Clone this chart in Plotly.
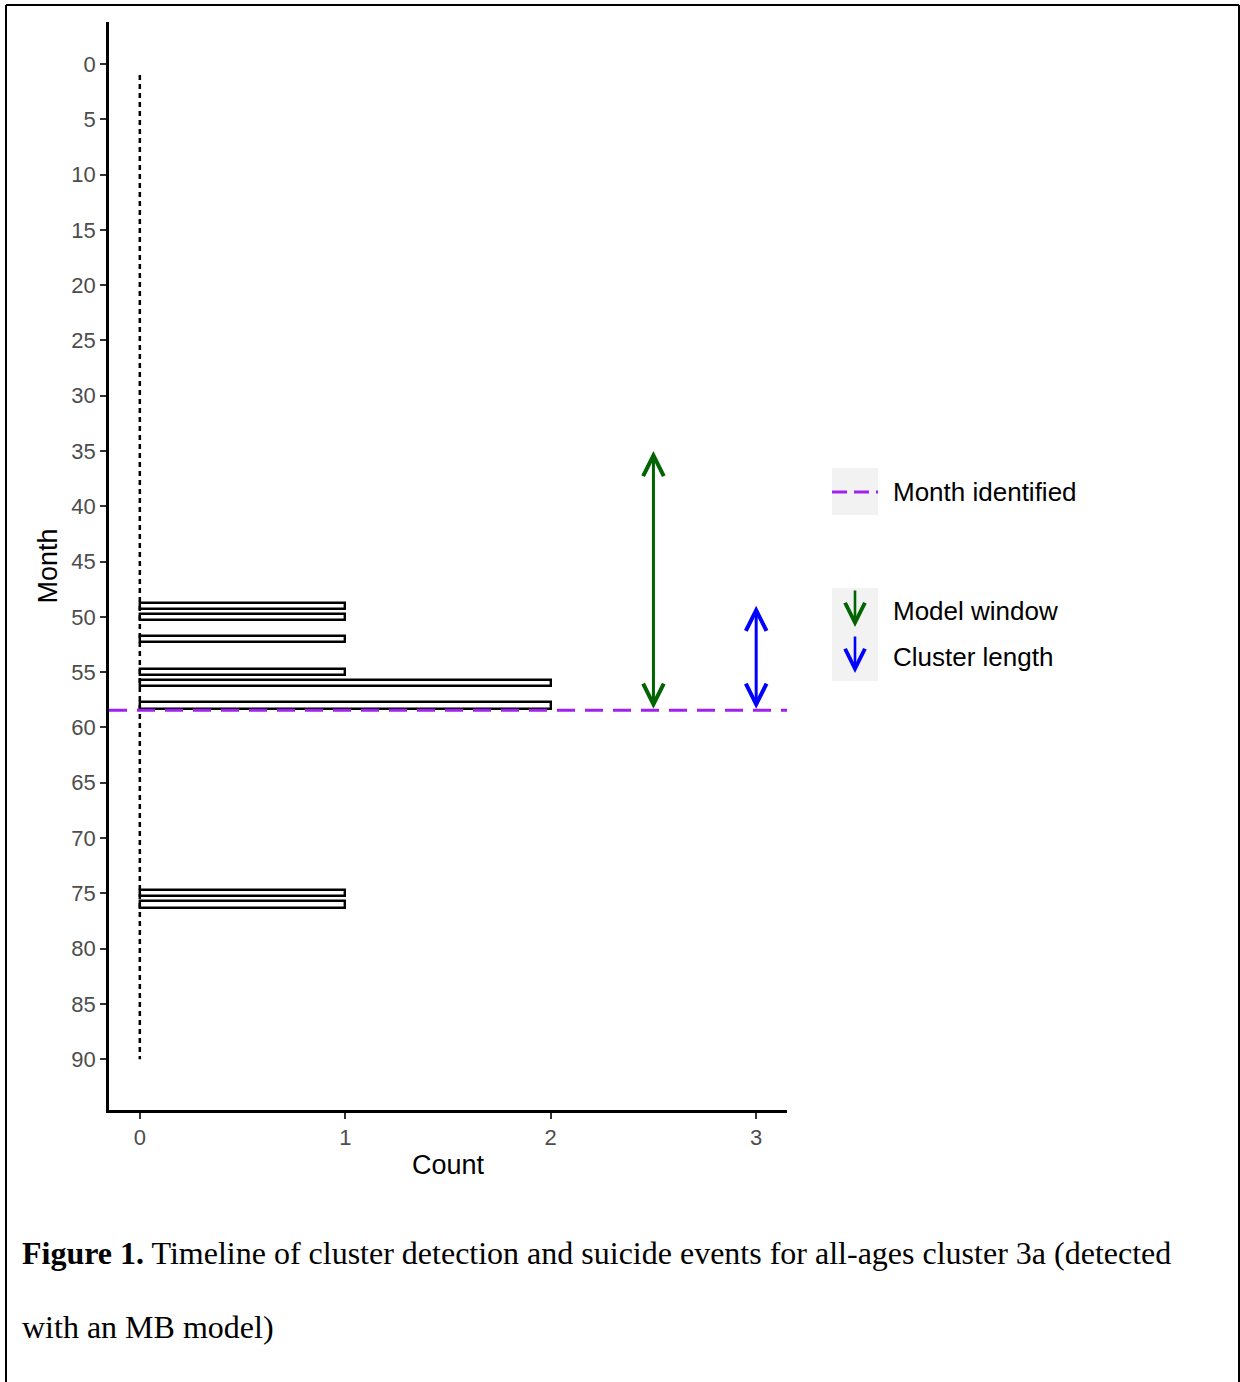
import plotly.graph_objects as go

# ---- data ----
months = [49, 50, 52, 55, 56, 58, 75, 76]
counts = [1, 1, 1, 1, 2, 2, 1, 1]
month_identified = 58.45
model_window_start = 35
cluster_start = 49
model_window_x = 2.5
cluster_x = 3.0
timeline_start, timeline_end = 1, 90
y_ticks = list(range(0, 95, 5))
x_ticks = [0, 1, 2, 3]

W, H = 1240, 1382
L, R, T, B = 109, 787, 22, 1110  # plot area in pixels


def px(x):
    return (x - L) / (R - L)


def py(y):
    return (B - y) / (B - T)


fig = go.Figure()

# dotted timeline
fig.add_trace(go.Scatter(x=[0, 0], y=[timeline_start, timeline_end], mode="lines",
                         line=dict(color="black", width=2.5, dash="5px,4px"),
                         hoverinfo="skip", showlegend=False))

fig.add_trace(go.Bar(x=counts, y=months, orientation="h", width=0.58,
                     marker=dict(color="white", line=dict(color="black", width=2.4)),
                     showlegend=False))

# month identified dashed line
fig.add_trace(go.Scatter(x=[-0.15, 3.15], y=[month_identified, month_identified], mode="lines",
                         line=dict(color="#A020F0", width=3, dash="18px,10px"),
                         hoverinfo="skip", showlegend=False))

annotations = []
for xa, ystart, col in [(model_window_x, model_window_start, "#006400"),
                        (cluster_x, cluster_start, "#0000FF")]:
    annotations.append(dict(x=xa, y=ystart, ax=xa, ay=month_identified,
                            xref="x", yref="y", axref="x", ayref="y",
                            text="", showarrow=True, arrowhead=5, startarrowhead=5,
                            arrowside="end+start", arrowsize=1.35, startarrowsize=1.35,
                            arrowwidth=3, arrowcolor=col, standoff=0, startstandoff=0))

shapes = []
# page border
shapes.append(dict(type="line", xref="paper", yref="paper", x0=px(6), x1=px(1239),
                   y0=py(5), y1=py(5), line=dict(color="black", width=2)))
shapes.append(dict(type="line", xref="paper", yref="paper", x0=px(6), x1=px(6),
                   y0=py(5), y1=py(1390), line=dict(color="black", width=2)))
shapes.append(dict(type="line", xref="paper", yref="paper", x0=px(1239), x1=px(1239),
                   y0=py(5), y1=py(1390), line=dict(color="black", width=2)))

# legend keys
shapes.append(dict(type="rect", xref="paper", yref="paper", x0=px(832), x1=px(878),
                   y0=py(468), y1=py(515), fillcolor="#F2F2F2", line=dict(width=0), layer="below"))
shapes.append(dict(type="line", xref="paper", yref="paper", x0=px(832), x1=px(878),
                   y0=py(492), y1=py(492), line=dict(color="#A020F0", width=3, dash="15px,7px")))
shapes.append(dict(type="rect", xref="paper", yref="paper", x0=px(832), x1=px(878),
                   y0=py(588), y1=py(681), fillcolor="#F2F2F2", line=dict(width=0), layer="below"))

for ytip, col in [(627, "#006400"), (673, "#0000FF")]:
    annotations.append(dict(x=px(855), y=py(ytip), xref="paper", yref="paper",
                            ax=0, ay=-38, axref="pixel", ayref="pixel", text="",
                            showarrow=True, arrowhead=5, arrowsize=1.5, arrowwidth=2.6,
                            arrowcolor=col, standoff=0))

legend_font = dict(family="Liberation Sans, Arial, sans-serif", size=26, color="black")
for ytxt, txt in [(492, "Month identified"), (611, "Model window"), (657, "Cluster length")]:
    annotations.append(dict(x=px(891), y=py(ytxt), xref="paper", yref="paper",
                            text=txt, showarrow=False, xanchor="left", yanchor="middle",
                            font=legend_font))

# caption
cap_font = dict(family="Liberation Serif, Times New Roman, serif", size=32, color="black")
annotations.append(dict(x=px(20), y=py(1253), xref="paper", yref="paper",
                        text="<b>Figure 1.</b> Timeline of cluster detection and suicide events for all-ages cluster 3a (detected",
                        showarrow=False, xanchor="left", yanchor="middle", font=cap_font))
annotations.append(dict(x=px(20), y=py(1327), xref="paper", yref="paper",
                        text="with an MB model)",
                        showarrow=False, xanchor="left", yanchor="middle", font=cap_font))

tick_font = dict(family="Liberation Sans, Arial, sans-serif", size=22, color="#4D4D4D")
title_font = dict(family="Liberation Sans, Arial, sans-serif", size=27, color="black")

fig.update_layout(
    width=W, height=H,
    margin=dict(l=L, r=W - R, t=T, b=H - B),
    paper_bgcolor="white", plot_bgcolor="white",
    showlegend=False,
    bargap=0,
    xaxis=dict(range=[-0.15, 3.15], tickvals=x_ticks, ticks="outside", ticklen=6,
               tickwidth=1.5, tickcolor="#333333", tickfont=tick_font,
               showline=True, linecolor="black", linewidth=2.5, showgrid=False,
               zeroline=False, title=dict(text="Count", font=title_font, standoff=6)),
    yaxis=dict(range=[94.6, -3.8], tickvals=y_ticks, ticks="outside", ticklen=6,
               tickwidth=1.5, tickcolor="#333333", tickfont=tick_font,
               showline=True, linecolor="black", linewidth=2.5, showgrid=False,
               zeroline=False, title=dict(text="Month", font=title_font, standoff=6)),
    annotations=annotations,
    shapes=shapes,
)

fig.write_html("out.html")
